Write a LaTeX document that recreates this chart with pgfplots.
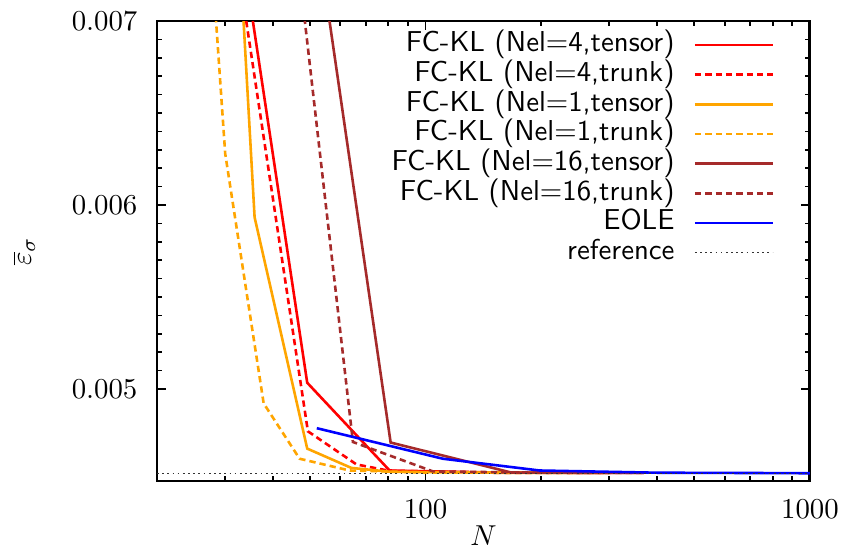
\documentclass[border=0pt]{standalone}
\usepackage{pgfplots}
\pgfplotsset{compat=1.18}
\usetikzlibrary{calc}
\definecolor{cred}{HTML}{FF0000}
\definecolor{corange}{HTML}{FFA500}
\definecolor{cbrown}{HTML}{A52A2A}
\definecolor{cblue}{HTML}{0000FF}
\begin{document}
\begin{tikzpicture}
\begin{axis}[
  scale only axis, width=226.7pt, height=159.7pt,
  xmode=log, xmin=20, xmax=1000, ymin=0.0045, ymax=0.007,
  xtick={100,1000}, xticklabels={$100$,$1000$},
  minor xtick={20,30,40,50,60,70,80,90,200,300,400,500,600,700,800,900},
  ytick={0.005,0.006,0.007}, yticklabels={$0.005$,$0.006$,$0.007$},
  scaled y ticks=false,
  minor y tick num=9,
  tick align=inside, major tick length=3pt, minor tick length=1.7pt,
  axis line style={line width=1pt}, every tick/.style={black,line width=0.6pt},
  yticklabel style={inner sep=0pt, xshift=-6.6pt},
  xticklabel style={inner sep=0pt, yshift=-6.5pt},
  every axis x label/.style={at={(axis description cs:0.5,0)}, yshift=-19pt, anchor=center},
  every axis y label/.style={at={(axis description cs:0,0.5)}, xshift=-46.2pt, rotate=90, anchor=center},
  xlabel={$N$}, ylabel={$\overline{\varepsilon}_\sigma$},
  legend plot pos=right, legend cell align=right,
  legend style={draw=none, fill=none, font=\sffamily, inner sep=0pt, outer sep=0pt,
    at={(rel axis cs:1,1)}, anchor=north east, xshift=-12.5pt, yshift=-3.2pt, row sep=0pt,
    nodes={inner sep=0pt, text height=7.55pt, text depth=2.75pt}},
  legend image code/.code={\path (0pt,0pt); \draw[#1] (6.6pt,0pt) -- (33.6pt,0pt);},
  every axis plot/.append style={line width=0.9pt},
]
\addplot[cred] coordinates {(30,0.00802) (49.2,0.005034) (80.6,0.004557) (150,0.004546) (370,0.004544)};
\addlegendentry{FC-KL (Nel=4,tensor)}
\addplot[cred, dash pattern=on 2.2pt off 1.4pt] coordinates {(30,0.00778) (49.4,0.004770) (66.1,0.004590) (80.6,0.004555) (150,0.004545) (300,0.004544)};
\addlegendentry{FC-KL (Nel=4,trunk)}
\addplot[corange] coordinates {(30,0.00882) (35.9,0.005933) (49.2,0.004676) (64.1,0.004571) (81,0.004550) (150,0.004545) (300,0.004544)};
\addlegendentry{FC-KL (Nel=1,tensor)}
\addplot[corange, dash pattern=on 2.2pt off 1.4pt] coordinates {(22,0.0104) (30.1,0.006279) (37.9,0.004922) (47,0.004621) (63.4,0.004557) (100,0.004546) (250,0.004544)};
\addlegendentry{FC-KL (Nel=1,trunk)}
\addplot[cbrown] coordinates {(50,0.007735) (81.1,0.004709) (167,0.004546) (370,0.004544)};
\addlegendentry{FC-KL (Nel=16,tensor)}
\addplot[cbrown, dash pattern=on 2.2pt off 1.4pt] coordinates {(40,0.00853) (64.7,0.004712) (104.5,0.004552) (200,0.004545) (370,0.004544)};
\addlegendentry{FC-KL (Nel=16,trunk)}
\addplot[cblue] coordinates {(52.1,0.004787) (110.9,0.004621) (198,0.004557) (400,0.004545) (800,0.004543) (1000,0.004542)};
\addlegendentry{EOLE}
\addplot[black!80, line width=0.45pt, dash pattern=on 0.6pt off 1.2pt] coordinates {(20,0.004539) (1000,0.004539)};
\addlegendentry{reference}
\end{axis}
\pgfresetboundingbox
\path ($(current axis.south west)+(-54.5pt,-23.4pt)$) rectangle ($(current axis.north east)+(10.8pt,7.3pt)$);
\end{tikzpicture}
\end{document}
